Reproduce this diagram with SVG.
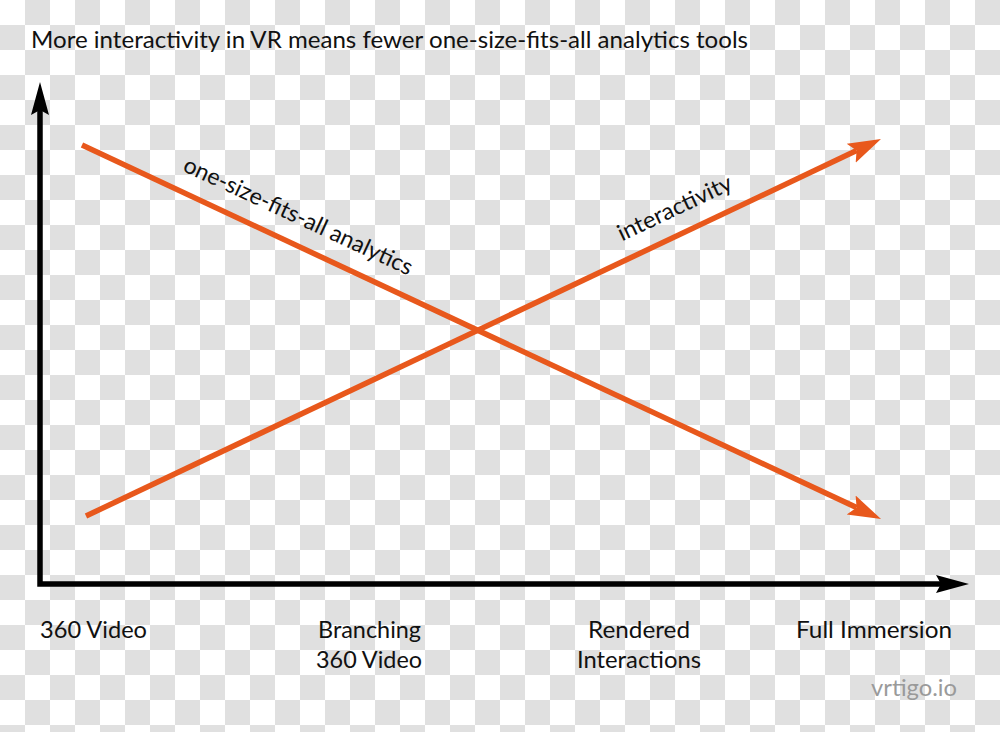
<svg xmlns="http://www.w3.org/2000/svg" width="1000" height="732" viewBox="0 0 1000 732">
  <style>
    .t { font-family: Lato, "Open Sans", "Liberation Sans", sans-serif; font-size: 23px; fill: #111; }
    .grey { fill: #9a9a9a; }
    .axis { fill: none; stroke: #000; stroke-width: 5.5; stroke-linejoin: miter; }
    .trend { fill: none; stroke: #e8581c; stroke-width: 5.5; }
  </style>
  <defs>
    <pattern id="checker" width="50" height="50" patternUnits="userSpaceOnUse">
      <rect width="50" height="50" fill="#ffffff"/>
      <rect x="25" y="0" width="25" height="25" fill="#e0e0e0"/>
      <rect x="0" y="25" width="25" height="25" fill="#e0e0e0"/>
    </pattern>
    <marker id="blackHead" viewBox="0 0 34 20" refX="5" refY="10" markerWidth="34" markerHeight="20" markerUnits="userSpaceOnUse" orient="auto-start-reverse">
      <path d="M0,1 L33,10 L0,19 L5,10 Z" fill="#000"/>
    </marker>
    <marker id="orangeHead" viewBox="0 0 34 24" refX="6" refY="12" markerWidth="34" markerHeight="24" markerUnits="userSpaceOnUse" orient="auto">
      <path d="M0,1.5 L33,12 L0,22.5 L6,12 Z" fill="#e8581c"/>
    </marker>
  </defs>

  <rect id="background" width="1000" height="732" fill="url(#checker)"/>

  <g id="title">
    <text class="t" x="31" y="48" textLength="717" lengthAdjust="spacingAndGlyphs">More interactivity in VR means fewer one-size-fits-all analytics tools</text>
  </g>

  <g id="connectors">
    <path id="axes" class="axis" d="M40,110 L40,584 L941,584" marker-start="url(#blackHead)" marker-end="url(#blackHead)"/>
    <path id="line-one-size" class="trend" d="M82,145 L856.6,507.6" marker-end="url(#orangeHead)"/>
    <path id="line-interactivity" class="trend" d="M86,516 L856.6,150.6" marker-end="url(#orangeHead)"/>
  </g>

  <g id="label-one-size">
    <text class="t" text-anchor="middle" transform="translate(295,223) rotate(24.9)" textLength="250" lengthAdjust="spacingAndGlyphs">one-size-fits-all analytics</text>
  </g>
  <g id="label-interactivity">
    <text class="t" text-anchor="middle" transform="translate(678,215) rotate(-25.3)" textLength="124" lengthAdjust="spacingAndGlyphs">interactivity</text>
  </g>

  <g id="x-360-video">
    <text class="t" x="40" y="638" textLength="107" lengthAdjust="spacingAndGlyphs">360 Video</text>
  </g>
  <g id="x-branching">
    <text class="t" x="318" y="638" textLength="103" lengthAdjust="spacingAndGlyphs">Branching</text>
    <text class="t" x="316" y="668" textLength="106" lengthAdjust="spacingAndGlyphs">360 Video</text>
  </g>
  <g id="x-rendered">
    <text class="t" x="588" y="638" textLength="102" lengthAdjust="spacingAndGlyphs">Rendered</text>
    <text class="t" x="577" y="668" textLength="124" lengthAdjust="spacingAndGlyphs">Interactions</text>
  </g>
  <g id="x-full-immersion">
    <text class="t" x="796" y="638" textLength="156" lengthAdjust="spacingAndGlyphs">Full Immersion</text>
  </g>
  <g id="credit">
    <text class="t grey" x="871" y="696" textLength="86" lengthAdjust="spacingAndGlyphs">vrtigo.io</text>
  </g>
</svg>
